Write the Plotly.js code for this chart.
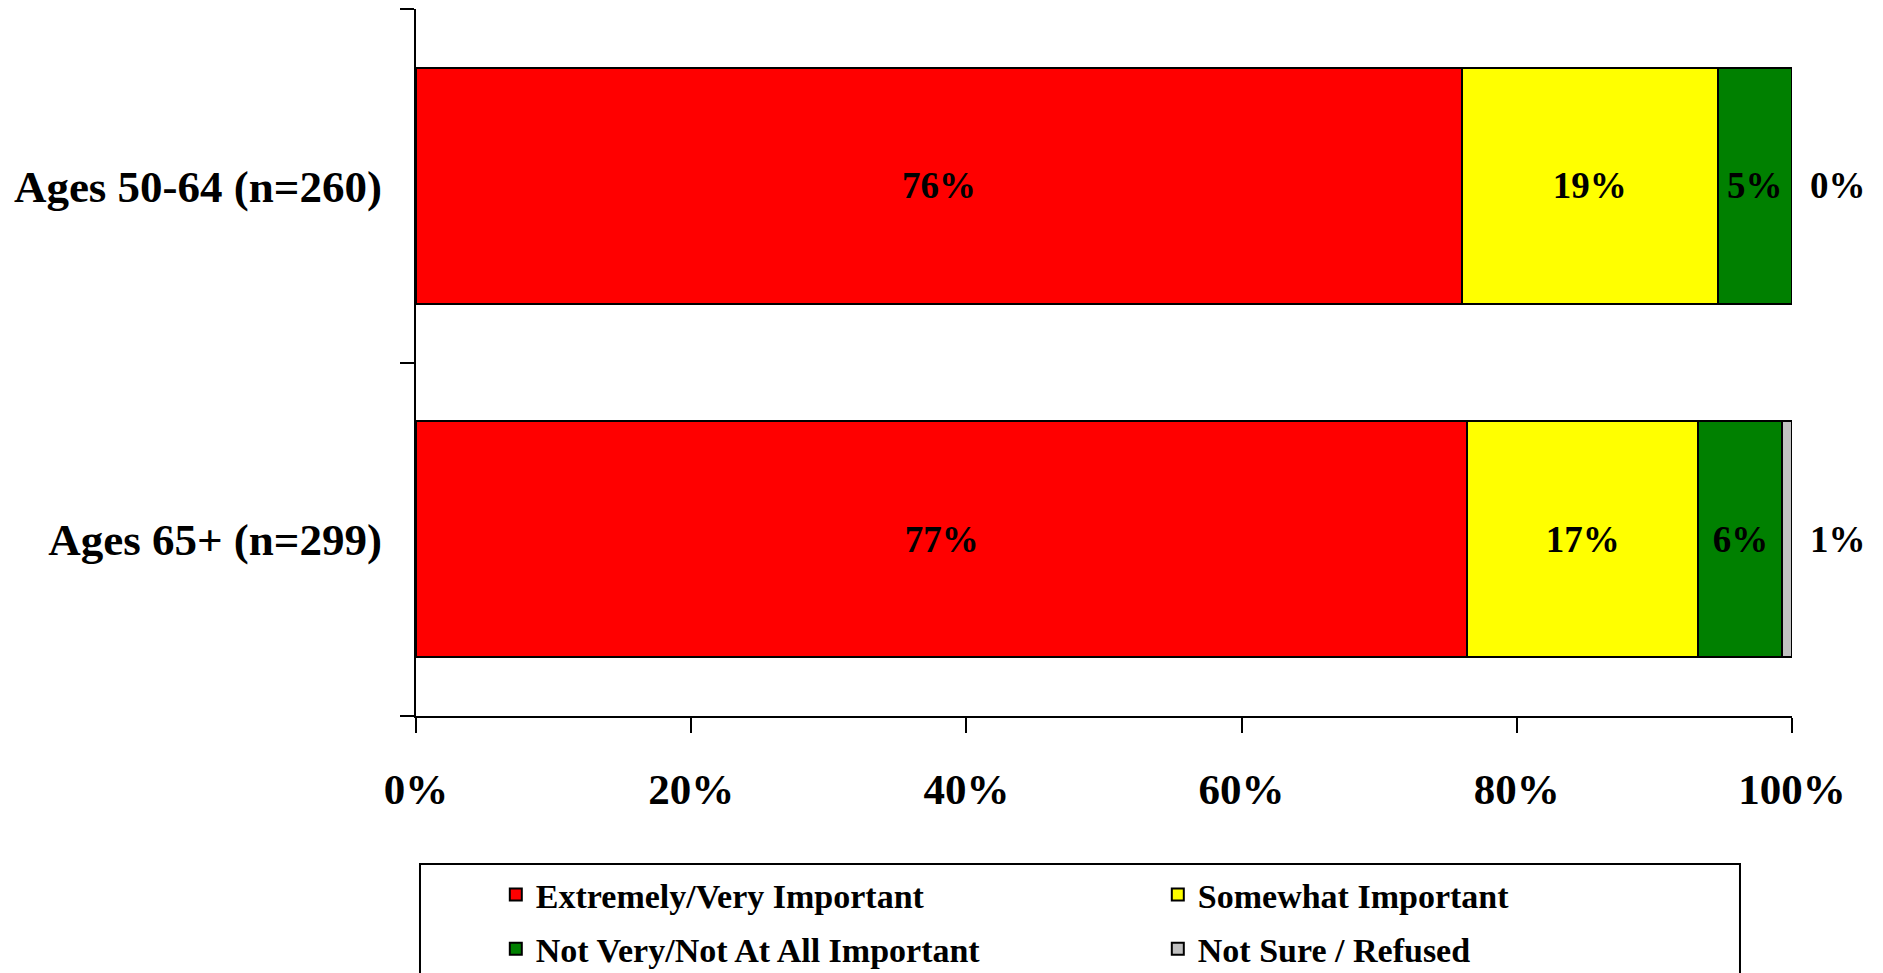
<!DOCTYPE html>
<html>
<head>
<meta charset="utf-8">
<script src="https://cdn.plot.ly/plotly-3.0.1.min.js"></script>
<style>
  html, body { margin: 0; padding: 0; background: #ffffff; }
  #chart { width: 1883px; height: 973px; }
</style>
</head>
<body>
<div id="chart"></div>
<script>
// ---- Data ----
const categories = ['Ages 50-64 (n=260)', 'Ages 65+ (n=299)'];
const seriesNames = ['Extremely/Very Important', 'Somewhat Important', 'Not Very/Not At All Important', 'Not Sure / Refused'];
const extremelyVery = [76.0, 76.4];
const somewhat = [18.6, 16.8];
const notVery = [5.4, 6.1];
const notSure = [0.0, 0.7];
const extremelyVeryLabels = [76, 77];
const somewhatLabels = [19, 17];
const notVeryLabels = [5, 6];
const notSureLabels = [0, 1];
const xTicks = [0, 20, 40, 60, 80, 100];
const colors = ['#FF0000', '#FFFF00', '#008000', '#C0C0C0'];

const FONT = 'Liberation Serif, Times New Roman, serif';

const values = [extremelyVery, somewhat, notVery, notSure];
const labels = [extremelyVeryLabels, somewhatLabels, notVeryLabels, notSureLabels];
const legendIds = ['legend', 'legend', 'legend2', 'legend2'];

const traces = values.map((v, i) => ({
  type: 'bar',
  orientation: 'h',
  name: seriesNames[i],
  legend: legendIds[i],
  y: categories,
  x: v,
  text: labels[i].map(t => t + '%'),
  textposition: i === 3 ? 'none' : 'inside',
  insidetextanchor: 'middle',
  textangle: 0,
  constraintext: 'none',
  insidetextfont: { family: FONT, size: 37, color: '#000000', weight: 'bold' },
  marker: { color: colors[i], line: { color: '#000000', width: 2 } },
  hoverinfo: 'skip'
}));

const annotations = categories.map((c, i) => ({
  x: 100,
  y: c,
  xref: 'x',
  yref: 'y',
  text: notSureLabels[i] + '%',
  showarrow: false,
  xanchor: 'left',
  yanchor: 'middle',
  xshift: 16,
  font: { family: FONT, size: 37, color: '#000000', weight: 'bold' }
}));

const legendCommon = {
  orientation: 'h',
  xanchor: 'left',
  yanchor: 'middle',
  borderwidth: 0,
  bgcolor: 'rgba(0,0,0,0)',
  entrywidth: 617,
  entrywidthmode: 'pixels',
  traceorder: 'normal',
  font: { family: FONT, size: 34, color: '#000000', weight: 'bold' }
};

const layout = {
  width: 1883,
  height: 973,
  paper_bgcolor: '#ffffff',
  plot_bgcolor: '#ffffff',
  margin: { l: 416, r: 91, t: 9, b: 257, autoexpand: false },
  barmode: 'stack',
  bargap: 0.333,
  showlegend: true,
  font: { family: FONT, color: '#000000' },
  xaxis: {
    range: [0, 100],
    tickvals: xTicks,
    ticktext: xTicks.map(t => t + '%'),
    ticks: 'outside',
    ticklen: 15,
    tickwidth: 2,
    tickcolor: '#000000',
    showline: true,
    linecolor: '#000000',
    linewidth: 2,
    showgrid: false,
    zeroline: false,
    ticklabelstandoff: 19,
    tickfont: { family: FONT, size: 43, color: '#000000', weight: 'bold' },
    fixedrange: true
  },
  yaxis: {
    type: 'category',
    categoryorder: 'array',
    categoryarray: categories.slice().reverse(),
    tickson: 'boundaries',
    ticks: 'outside',
    ticklen: 14,
    tickwidth: 2,
    tickcolor: '#000000',
    showline: true,
    linecolor: '#000000',
    linewidth: 2,
    showgrid: false,
    zeroline: false,
    ticklabelstandoff: 23,
    tickfont: { family: FONT, size: 45, color: '#000000', weight: 'bold' },
    fixedrange: true
  },
  legend: Object.assign({}, legendCommon, { x: 0.058, y: -0.2532 }),
  legend2: Object.assign({}, legendCommon, { x: 0.058, y: -0.3296 }),
  shapes: [{
    type: 'rect',
    xref: 'paper',
    yref: 'paper',
    x0: 0.0029,
    x1: 0.9622,
    y0: -0.2093,
    y1: -0.40,
    line: { color: '#000000', width: 2 },
    fillcolor: 'rgba(0,0,0,0)',
    layer: 'below'
  }],
  annotations: annotations
};

Plotly.newPlot('chart', traces, layout, { displayModeBar: false, staticPlot: true });
</script>
</body>
</html>
